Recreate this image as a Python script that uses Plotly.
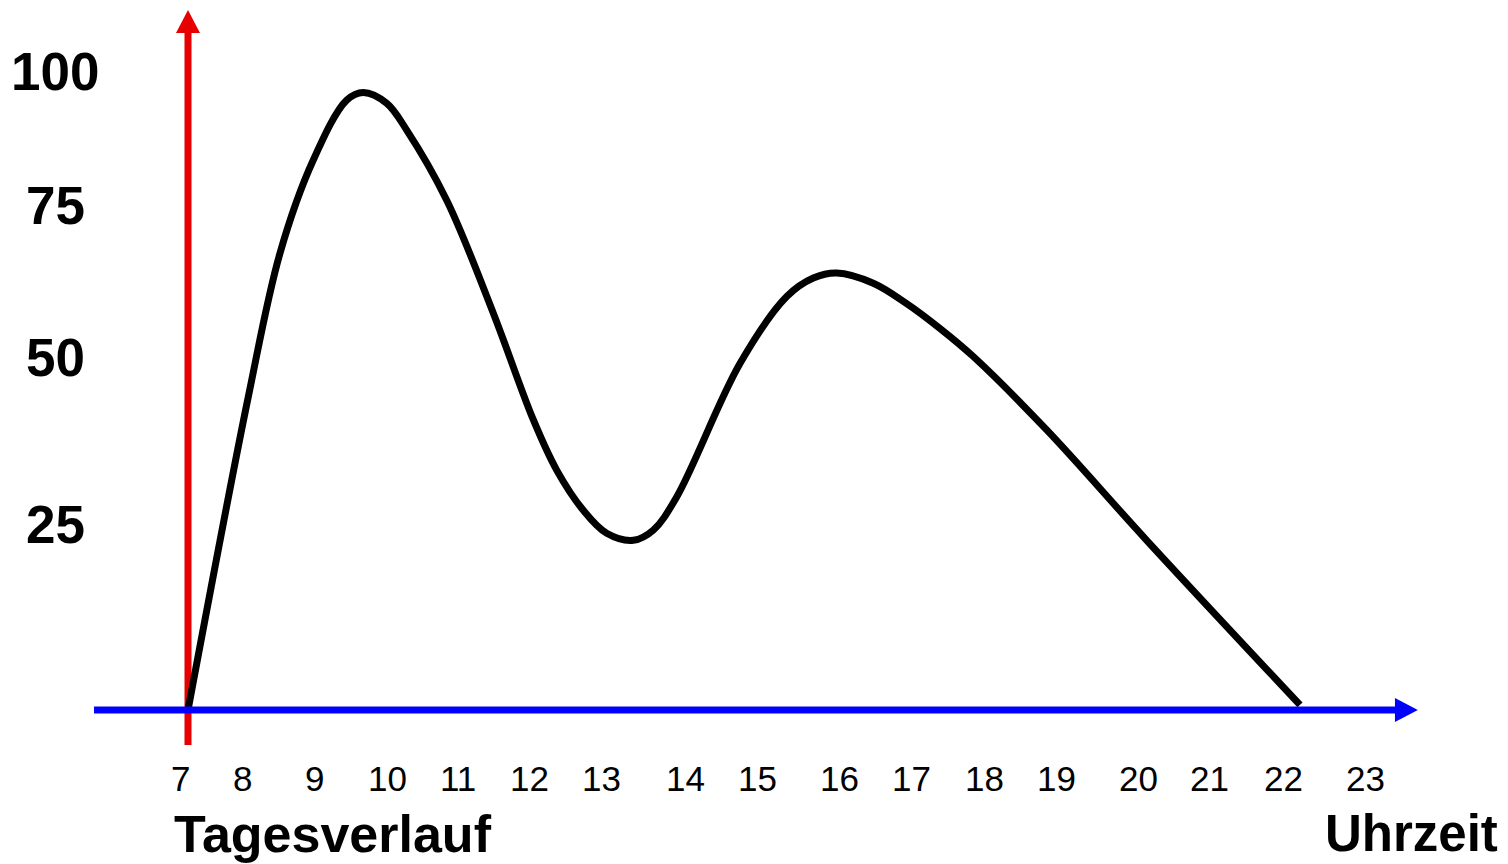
import plotly.graph_objects as go

# Curve (hour of day, performance level)
hours = [7.000, 7.815, 8.243, 8.693, 9.145, 9.369,
         9.685, 9.955, 10.496, 11.126, 11.666, 11.982, 12.342, 12.658, 13.018,
         13.288, 13.604, 14.459, 15.091, 15.450, 15.766,
         16.261, 16.712, 17.162, 17.612, 18.604, 19.955, 22.027]
level = [0.0, 49.1, 71.6, 86.2, 95.6, 96.8,
         95.1, 90.9, 79.9, 62.2, 45.5, 37.6, 31.3, 27.7, 26.6,
         28.2, 33.4, 54.3, 64.8, 67.7, 68.5,
         66.9, 63.7, 59.8, 55.4, 43.9, 26.6, 0.8]

# Hour tick labels and where they sit along the time axis
hour_labels = ["7", "8", "9", "10", "11", "12", "13", "14", "15", "16", "17", "18",
               "19", "20", "21", "22", "23"]
hour_label_pos = [6.905, 7.73, 8.716, 9.69, 10.65, 11.62, 12.59, 13.72, 14.69, 15.81,
                  16.78, 17.77, 18.74, 19.84, 20.81, 21.80, 22.91]

# Level tick labels and where they sit along the level axis
level_labels = ["100", "75", "50", "25"]
level_label_pos = [100, 79.15, 55.3, 29.0]

x_title = "Tagesverlauf"
x_unit = "Uhrzeit"

X_RANGE = [4.5676, 24.946]
Y_RANGE = [-25.392, 110.03]

FONT = "Liberation Sans, Arial, sans-serif"

fig = go.Figure()

fig.add_trace(go.Scatter(
    x=hours, y=level, mode="lines",
    line=dict(color="black", width=7, shape="spline", smoothing=1.0),
    hoverinfo="skip", showlegend=False,
))

shapes = []
# red vertical axis with arrow
shapes.append(dict(type="line", xref="x", yref="y", x0=7, x1=7, y0=-5.5, y1=106.5,
                   line=dict(color="#e60000", width=7), layer="below"))
shapes.append(dict(type="path", xref="x", yref="y",
                   path="M 6.838 106.1 L 7.162 106.1 L 7 109.7 Z",
                   fillcolor="#e60000", line=dict(width=0), layer="below"))
# blue horizontal axis with arrow
shapes.append(dict(type="line", xref="x", yref="y", x0=5.73, x1=23.35, y0=0, y1=0,
                   line=dict(color="#0000ff", width=7), layer="above"))
shapes.append(dict(type="path", xref="x", yref="y",
                   path="M 23.31 1.88 L 23.31 -1.88 L 23.62 0 Z",
                   fillcolor="#0000ff", line=dict(width=0), layer="above"))

annotations = []
for lab, pos in zip(hour_labels, hour_label_pos):
    annotations.append(dict(x=pos, y=-10.8, xref="x", yref="y", text=lab, showarrow=False,
                            xanchor="center", yanchor="middle",
                            font=dict(family=FONT, size=35, color="black")))
for lab, pos in zip(level_labels, level_label_pos):
    annotations.append(dict(x=0.03117, y=pos, xref="paper", yref="y", text="<b>" + lab + "</b>",
                            showarrow=False, xanchor="center", yanchor="middle",
                            font=dict(family=FONT, size=53, color="black")))
annotations.append(dict(x=0.1088, y=0.035, yshift=8, xref="paper", yref="paper",
                        text="<b>" + x_title + "</b>",
                        showarrow=False, xanchor="left", yanchor="middle",
                        font=dict(family=FONT, size=52, color="black")))
annotations.append(dict(x=0.9894, y=0.035, yshift=8, xref="paper", yref="paper",
                        text="<b>" + x_unit + "</b>",
                        showarrow=False, xanchor="right", yanchor="middle",
                        font=dict(family=FONT, size=51, color="black")))

fig.update_layout(
    width=1508, height=864,
    margin=dict(l=0, r=0, t=0, b=0),
    paper_bgcolor="white", plot_bgcolor="white",
    xaxis=dict(range=X_RANGE, visible=False, fixedrange=True),
    yaxis=dict(range=Y_RANGE, visible=False, fixedrange=True),
    shapes=shapes, annotations=annotations,
)

fig.write_html("out.html")
